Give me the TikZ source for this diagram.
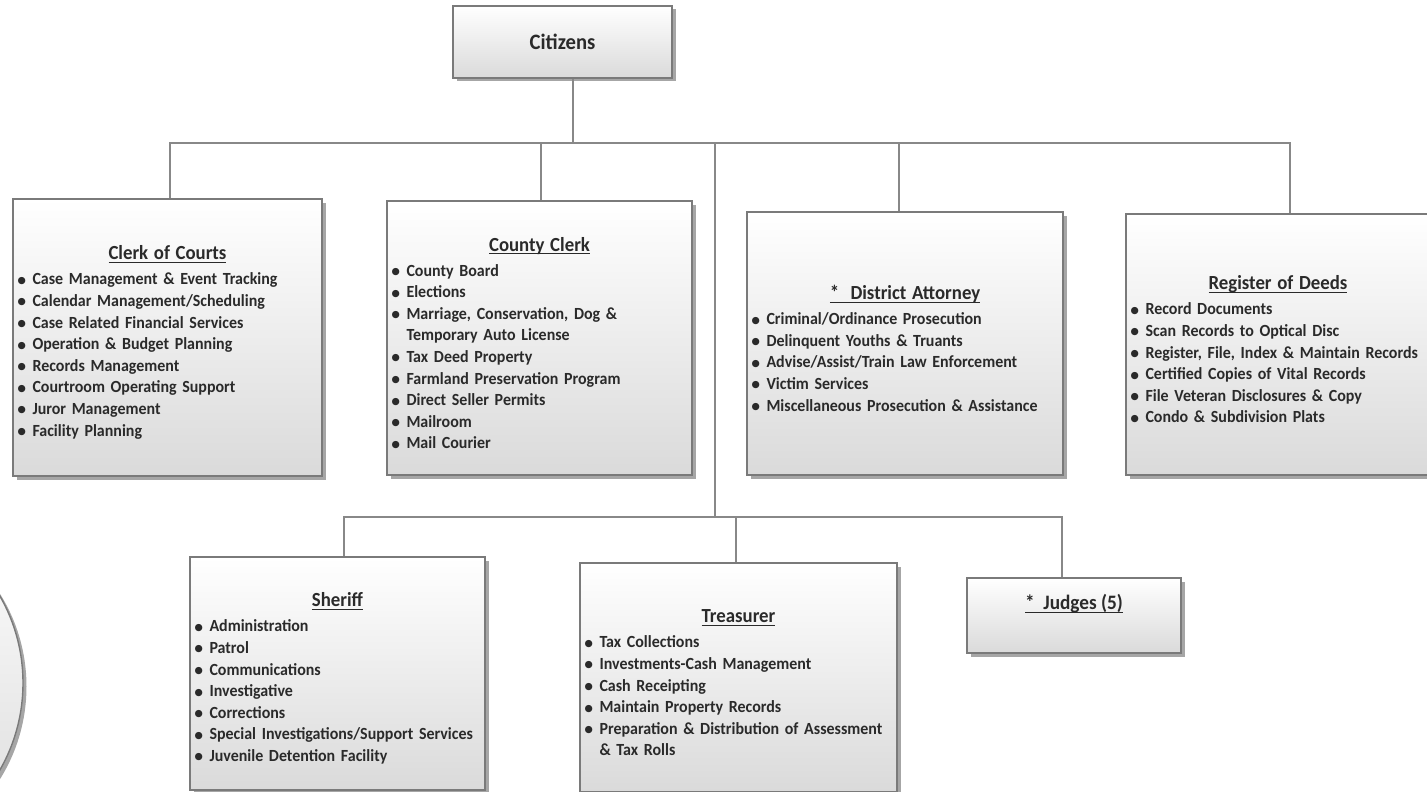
\documentclass[tikz,border=0pt]{standalone}
\usepackage{fontspec}
\setmainfont{Carlito}[FakeStretch=0.94]
\newfontfamily\dotfont{DejaVu Sans}
\usetikzlibrary{shadows}

\definecolor{ink}{HTML}{2A2A2A}
\definecolor{edge}{HTML}{7A7A7A}
\definecolor{wire}{HTML}{888888}
\definecolor{boxbot}{HTML}{DADADA}

% underlined text with a rule a little below the baseline
\newsavebox\ulbox
\newcommand\uln[1]{\sbox\ulbox{#1}\leavevmode\rlap{\rule[-2.8pt]{\wd\ulbox}{1pt}}\usebox\ulbox}
% one bulleted line of a department box
\newcommand\entry[1]{\makebox[15.5pt][l]{\hspace{0.5pt}\raisebox{1.6pt}{\dotfont\fontsize{9.5}{10}\selectfont ●}}#1}
% continuation line of a wrapped entry
\newcommand\cont[1]{\hspace*{15.5pt}#1}
% centred, underlined heading of a department box
\newcommand\head[1]{\rule{0pt}{24pt}\hfil{\fontsize{20}{22}\selectfont\uln{#1}}\hfil\\[3.4pt]}

\tikzset{
  box/.style={draw=edge, line width=1.4pt, top color=white, bottom color=boxbot,
    drop shadow={shadow xshift=3.5pt, shadow yshift=-3.5pt, fill=black, opacity=0.35},
    inner xsep=4pt, inner ysep=0pt, text=ink, align=left,
    font=\bfseries\fontsize{17}{21.6}\selectfont},
  wire/.style={draw=wire, line width=2.6pt},
}

\begin{document}
\begin{tikzpicture}[x=1pt,y=-1pt]
\useasboundingbox (0,0) rectangle (1427,792);
\clip (0,0) rectangle (1427,792);

% partial seal at the lower left
\node (seal) [circle, draw=edge, line width=1.4pt, top color=white, bottom color=boxbot,
  drop shadow={shadow xshift=3.5pt, shadow yshift=-3.5pt, fill=black, opacity=0.35},
  minimum size=350pt] at (-152,683) {};

% top of the chart
\node (cit) [box, minimum width=219pt, minimum height=72pt, align=center,
  font=\bfseries\fontsize{22}{24}\selectfont] at (562.5,42) {Citizens};

% first row of departments
\node (coc) [box, minimum width=309pt, text width=301pt, minimum height=277pt] at (167.5,337.5) {%
\head{Clerk of Courts}
\entry{Case Management \& Event Tracking}\\
\entry{Calendar Management/Scheduling}\\
\entry{Case Related Financial Services}\\
\entry{Operation \& Budget Planning}\\
\entry{Records Management}\\
\entry{Courtroom Operating Support}\\
\entry{Juror Management}\\
\entry{Facility Planning}};

\node (cc) [box, minimum width=305pt, text width=297pt, minimum height=274pt] at (539.5,338) {%
\head{County Clerk}
\entry{County Board}\\
\entry{Elections}\\
\entry{Marriage, Conservation, Dog \&}\\
\cont{Temporary Auto License}\\
\entry{Tax Deed Property}\\
\entry{Farmland Preservation Program}\\
\entry{Direct Seller Permits}\\
\entry{Mailroom}\\
\entry{Mail Courier}};

\node (da) [box, minimum width=316pt, text width=308pt, minimum height=263pt] at (905,343.5) {%
\head{*\ \ District Attorney}
\entry{Criminal/Ordinance Prosecution}\\
\entry{Delinquent Youths \& Truants}\\
\entry{Advise/Assist/Train Law Enforcement}\\
\entry{Victim Services}\\
\entry{Miscellaneous Prosecution \& Assistance}};

\node (rod) [box, minimum width=304pt, text width=296pt, minimum height=261pt] at (1278,344.5) {%
\head{Register of Deeds}
\entry{Record Documents}\\
\entry{Scan Records to Optical Disc}\\
\entry{Register, File, Index \& Maintain Records}\\
\entry{Certified Copies of Vital Records}\\
\entry{File Veteran Disclosures \& Copy}\\
\entry{Condo \& Subdivision Plats}};

% second row
\node (sh) [box, minimum width=295pt, text width=287pt, minimum height=233pt] at (337.5,673.5) {%
\head{Sheriff}
\entry{Administration}\\
\entry{Patrol}\\
\entry{Communications}\\
\entry{Investigative}\\
\entry{Corrections}\\
\entry{Special Investigations/Support Services}\\
\entry{Juvenile Detention Facility}};

\node (tr) [box, minimum width=317pt, text width=309pt, minimum height=229pt] at (738.5,677.5) {%
\head{Treasurer}
\entry{Tax Collections}\\
\entry{Investments-Cash Management}\\
\entry{Cash Receipting}\\
\entry{Maintain Property Records}\\
\entry{Preparation \& Distribution of Assessment}\\
\cont{\& Tax Rolls}};

\node (jd) [box, minimum width=214pt, minimum height=75pt] at (1074,615.5) {};
\node (jdl) [text=ink, font=\bfseries\fontsize{20.5}{22}\selectfont] at (1074,604) {\uln{*\ \ Judges (5)}};

% upper bus
\coordinate (b1) at (170,143);
\coordinate (b2) at (541,143);
\coordinate (bc) at (573,143);
\coordinate (b3) at (715,143);
\coordinate (b4) at (899,143);
\coordinate (b5) at (1290,143);
% lower bus
\coordinate (l1) at (344,517);
\coordinate (l3) at (715,517);
\coordinate (l2) at (736,517);
\coordinate (l4) at (1062,517);

\draw[wire] (cit.south -| bc) -- (bc);
\draw[wire] (b1 |- coc.north) -- (b1) -- (b5) -- (b5 |- rod.north);
\draw[wire] (b2) -- (b2 |- cc.north);
\draw[wire] (b4) -- (b4 |- da.north);
\draw[wire] (b3) -- (l3);
\draw[wire] (l1 |- sh.north) -- (l1) -- (l4) -- (l4 |- jd.north);
\draw[wire] (l2) -- (l2 |- tr.north);
\end{tikzpicture}
\end{document}
